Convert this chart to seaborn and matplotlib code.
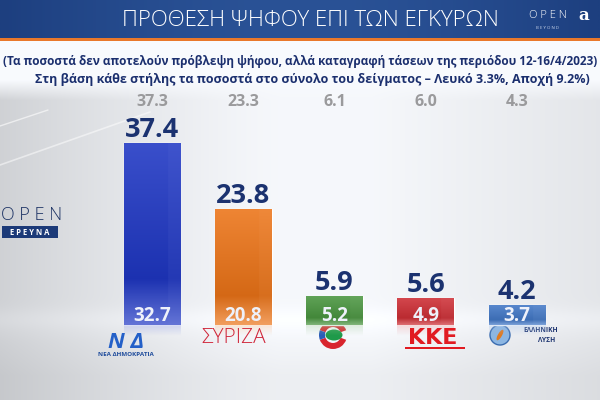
import numpy as np
import pandas as pd
import matplotlib
matplotlib.use("Agg")
import matplotlib.pyplot as plt
import matplotlib.transforms as mtransforms
from matplotlib.patches import Rectangle, Ellipse, Wedge, Circle
from matplotlib.colors import to_rgb
import seaborn as sns

# ---------------- data ----------------
parties = ["ΝΔ", "ΣΥΡΙΖΑ", "ΠΑΣΟΚ", "ΚΚΕ", "ΕΛΛΗΝΙΚΗ ΛΥΣΗ"]
valid_pct = [37.4, 23.8, 5.9, 5.6, 4.2]      # bar height (valid votes)
prev_pct = [37.3, 23.3, 6.1, 6.0, 4.3]       # grey numbers on top
sample_pct = [32.7, 20.8, 5.2, 4.9, 3.7]     # numbers inside bar bases
bar_colors = ["#1f37c4", "#ec7418", "#4a9640", "#cf2f36", "#4379c8"]
title = "ΠΡΟΘΕΣΗ ΨΗΦΟΥ ΕΠΙ ΤΩΝ ΕΓΚΥΡΩΝ"
subtitle1 = "(Τα ποσοστά δεν αποτελούν πρόβλεψη ψήφου, αλλά καταγραφή τάσεων της περιόδου 12-16/4/2023)"
subtitle2 = "Στη βάση κάθε στήλης τα ποσοστά στο σύνολο του δείγματος – Λευκό 3.3%, Αποχή 9.2%)"

df = pd.DataFrame({"party": parties, "valid": valid_pct})

sns.set_theme(style="white")
plt.rcParams["font.family"] = ["Open Sans", "DejaVu Sans"]

fig = plt.figure(figsize=(6, 4), dpi=100)

# ---------------- background ----------------
bg = fig.add_axes([0, 0, 1, 1], zorder=0)
H, W = 400, 600
X, Y = np.meshgrid(np.linspace(0, 1, W), np.linspace(0, 1, H))
light = (0.975 - 0.15 * np.clip((0.47 - X) / 0.47, 0, 1) ** 1.3
         - 0.07 * np.clip((X - 0.62) / 0.38, 0, 1))
top_white = np.clip((0.25 - Y) / 0.05, 0, 1)
light = light * (1 - top_white) + 0.985 * top_white
band = np.exp(-((Y - 0.80) / 0.03) ** 2) * 0.03
light = light + band
lower = np.clip((Y - 0.84) / 0.1, 0, 1)
light = light * (1 - lower) + (light - 0.035) * lower
img = np.dstack([light - 0.012, light - 0.004, light + 0.01])
bg.imshow(np.clip(img, 0, 1), extent=[0, 600, 400, 0], aspect="auto")
bg.set_xlim(0, 600)
bg.set_ylim(400, 0)
bg.axis("off")

# faint streaks on the left
bg.plot([0, 48], [126, 110], color="white", lw=1.0, alpha=0.6)
bg.plot([0, 150], [165, 112], color="white", lw=1.2, alpha=0.5)

# title bar
tb = np.linspace(0, 1, 200)
tb_col = np.array([to_rgb("#1d3f7f")]) * (1 - np.sin(np.pi * tb)[:, None]) + \
         np.array([to_rgb("#2a5296")]) * np.sin(np.pi * tb)[:, None]
bg.imshow(tb_col[None, :, :], extent=[0, 600, 38, 0], aspect="auto")
bg.add_patch(Rectangle((0, 38), 600, 3, color="#e9782b", lw=0))
bg.text(310, 20, title, color="white", fontsize=16, fontweight="light",
        ha="center", va="center")
bg.text(548, 16, "O P E N", color="white", fontsize=8, fontweight="light",
        ha="center", va="center")
bg.text(548, 28, "B E Y O N D", color="#c8d4ea", fontsize=3.2,
        ha="center", va="center")
bg.text(578, 16, "a", color="white", fontsize=12, fontweight="bold",
        family="DejaVu Serif", ha="left", va="center")

# subtitles
bg.text(3, 62, subtitle1, color="#1b2f6e", fontsize=8.5, fontweight="bold",
        ha="left", va="center")
bg.text(312, 80, subtitle2, color="#1b2f6e", fontsize=9, fontweight="bold",
        ha="center", va="center")

# left OPEN logo
bg.text(1, 215, "O P E N", color="#1c3264", fontsize=13, fontweight="light",
        ha="left", va="center")
bg.add_patch(Rectangle((2, 226), 56, 12, color="#1c3a78", lw=0))
bg.text(30, 232.5, "Ε Ρ Ε Υ Ν Α", color="white", fontsize=5.5, fontweight="bold",
        ha="center", va="center")

# ---------------- bars ----------------
ax = fig.add_axes([0.1773, 0.151, 0.7604, 0.5235], zorder=2)
ax.patch.set_alpha(0)
sns.barplot(data=df, x="party", y="valid", hue="party", palette=bar_colors,
            width=0.62, saturation=1, legend=False, ax=ax)
ax.set_xlim(-0.5, 4.5)
ax.set_ylim(-3, 40)
ax.axis("off")


def mix(c1, c2, t):
    return np.array(c1) * (1 - t) + np.array(c2) * t


for patch, col in zip(ax.patches, bar_colors):
    x0, w, h = patch.get_x(), patch.get_width(), patch.get_height()
    base = np.array(to_rgb(col))
    top = mix(base, [1, 1, 1], 0.12)
    mid = base * 0.9
    bot = mix(base, [1, 1, 1], 0.30)
    n = 120
    t = np.linspace(0, 1, n)  # 0 = bottom, 1 = top
    colv = np.zeros((n, 3))
    for i, tt in enumerate(t):
        if tt < 0.25:
            colv[i] = mix(bot, mid, tt / 0.25)
        else:
            colv[i] = mix(mid, top, (tt - 0.25) / 0.75)
    m = 40
    arr = np.repeat(colv[:, None, :], m, axis=1)
    side = np.linspace(0, 1, m) > 0.78
    arr[:, side, :] = arr[:, side, :] * 0.9 + 0.1 * mix(base, [1, 1, 1], 0.35)
    im = ax.imshow(arr, extent=[x0, x0 + w, 0, h], origin="lower",
                   aspect="auto", zorder=3)
    im.set_clip_path(patch)
    # reflection
    refl = np.zeros((20, m, 4))
    refl[:, :, :3] = mix(base, [1, 1, 1], 0.5)
    refl[:, :, 3] = np.linspace(0, 0.35, 20)[:, None]
    ax.imshow(refl, extent=[x0, x0 + w, -2.2, 0], origin="lower",
              aspect="auto", zorder=3)

# labels above bars
for i, v in enumerate(valid_pct):
    ax.annotate(f"{v:.1f}", (i, v), xytext=(0, 0), textcoords="offset points",
                ha="center", va="bottom", fontsize=19.5, fontweight="bold",
                color="#1b3270", zorder=5)

# labels inside bar bases
for i, v in enumerate(sample_pct):
    ax.annotate(f"{v:.1f}", (i, 0), xytext=(0, 6.5), textcoords="offset points",
                ha="center", va="center", fontsize=13.5, fontweight="bold",
                color="#eef1fa", zorder=5)

# grey numbers on top
trans = mtransforms.blended_transform_factory(ax.transData, fig.transFigure)
for i, v in enumerate(prev_pct):
    ax.text(i, 1 - 102 / 400, f"{v:.1f}", transform=trans, ha="center",
            va="center", fontsize=11.5, fontweight="bold", color="#9a9a9c",
            clip_on=False)

# ---------------- party "logos" ----------------
ly = 1 - 338 / 400
# ΝΔ
ax.text(-0.29, 1 - 342 / 400, "Ν Δ", transform=trans, ha="center", va="center",
        fontsize=16, fontweight="bold", fontstyle="italic", color="#2460c8",
        clip_on=False)
ax.text(-0.29, 1 - 355 / 400, "ΝΕΑ ΔΗΜΟΚΡΑΤΙΑ", transform=trans, ha="center",
        va="center", fontsize=4.5, fontweight="bold", color="#1f4c9c", clip_on=False)
# ΣΥΡΙΖΑ
ax.text(1 - 0.11, ly, parties[1], transform=trans, ha="center", va="center",
        fontsize=15, fontweight="light", color="#d0263a", clip_on=False)
# ΠΑΣΟΚ symbol
bg.add_patch(Wedge((333, 335), 14, 200, 340, width=6, color="#d8252e", lw=0))
bg.add_patch(Wedge((333, 335), 14, 20, 160, width=6, color="#d8252e", lw=0))
bg.add_patch(Wedge((333, 335), 14, 160, 200, width=6, color="#2a5cb8", lw=0))
bg.add_patch(Ellipse((334, 335), 17, 11, color="#1e9a4a", lw=0))
# ΚΚΕ
ax.text(3 + 0.08, ly, parties[3], transform=trans, ha="center", va="center",
        fontsize=16, fontweight="bold", family="DejaVu Sans", color="#e11b22",
        clip_on=False)
bg.add_patch(Rectangle((405, 347), 60, 2, color="#e11b22", lw=0))
# ΕΛΛΗΝΙΚΗ ΛΥΣΗ
bg.add_patch(Circle((500, 335), 10, facecolor="#8cb6e2", edgecolor="#3a6cb0", lw=1))
bg.add_patch(Ellipse((500, 335), 4, 12, angle=30, color="#e07a20", lw=0))
name1, name2 = parties[4].split()
bg.text(541, 331, name1, color="#1d3470", fontsize=4.8, ha="center",
        va="center", fontweight="bold")
bg.text(547, 340, name2, color="#1d3470", fontsize=4.8, ha="center",
        va="center", fontweight="bold")

fig.savefig("out.png", dpi=100)
